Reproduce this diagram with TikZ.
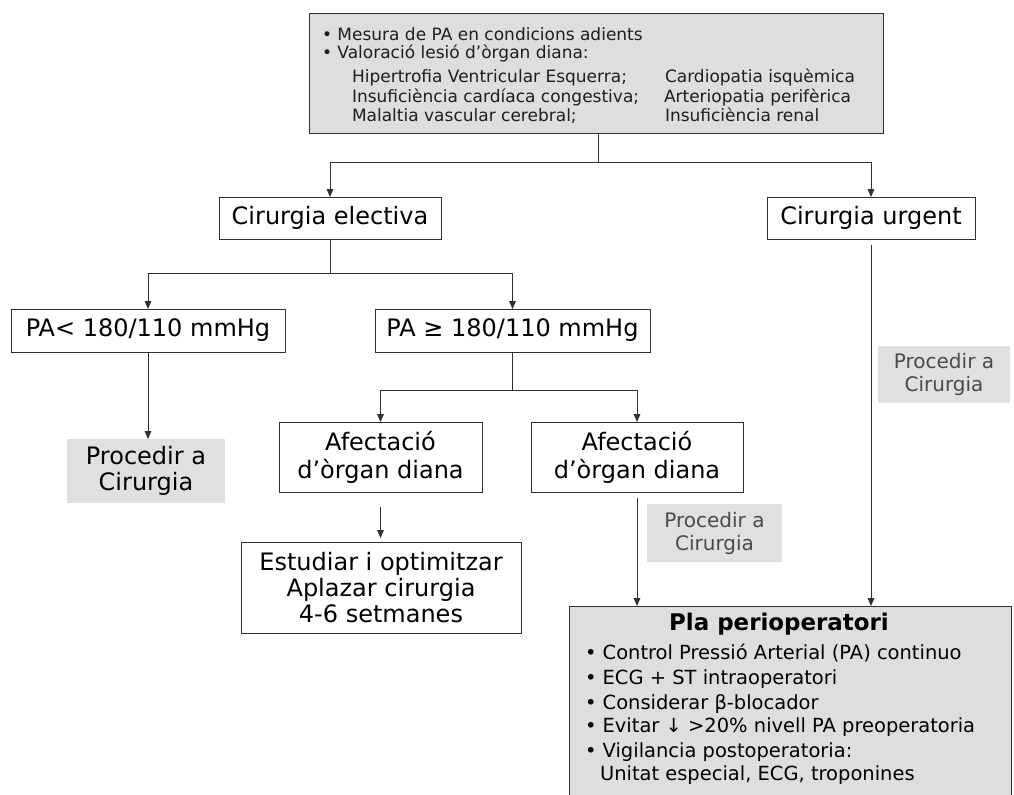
\documentclass[tikz,border=0pt]{standalone}
\usepackage{fontspec}
\setmainfont{DejaVu Sans}
\usetikzlibrary{arrows.meta}
\definecolor{boxline}{HTML}{303030}
\definecolor{boxfill}{HTML}{DEDEDE}
\definecolor{labfill}{HTML}{E0E0E0}
\definecolor{labtext}{HTML}{4A4A4A}
\definecolor{toptext}{HTML}{1E1E1E}
\tikzset{
  every node/.style={inner sep=0pt, outer sep=0pt},
  mainbox/.style={draw=boxline, line width=0.75pt, fill=white, align=center,
    font=\fontsize{18}{21}\selectfont},
  graybox/.style={draw=boxline, line width=0.75pt, fill=boxfill},
  glabelbig/.style={fill=labfill, align=center, font=\fontsize{18}{19.5}\selectfont},
  glabel/.style={fill=labfill, align=center, text=labtext, font=\fontsize{15}{17.25}\selectfont},
  toprow/.style={anchor=base west, text=toptext, font=\fontsize{12.75}{13.5}\selectfont},
  plarow/.style={anchor=base west, font=\fontsize{14.6}{18}\selectfont},
  conn/.style={draw=boxline, line width=0.75pt},
  arr/.style={conn, -{Triangle[length=6pt,width=5pt]}},
}
\begin{document}
\begin{tikzpicture}[x=0.75pt,y=-0.75pt]
\useasboundingbox (0,0) rectangle (1014,794);
% top box
\node[graybox, minimum width=430.5pt, minimum height=90pt] (top) at (596,73) {};
\node[toprow] (t1) at (322,40) {• Mesura de PA en condicions adients};
\node[toprow] (t2) at (322,58) {• Valoració lesió d’òrgan diana:};
\node[toprow] (t3) at (352,82) {Hipertrofia Ventricular Esquerra;};
\node[toprow] (t4) at (352,102) {Insuficiència cardíaca congestiva;};
\node[toprow] (t5) at (352,121) {Malaltia vascular cerebral;};
\node[toprow] (t6) at (665,82) {Cardiopatia isquèmica};
\node[toprow] (t7) at (664,102) {Arteriopatia perifèrica};
\node[toprow] (t8) at (665,121) {Insuficiència renal};
% level 1
\node[mainbox, minimum width=166.5pt, minimum height=31.5pt] (elec) at (330,218) {Cirurgia electiva};
\node[mainbox, minimum width=156pt, minimum height=31.5pt] (urg) at (871,218) {Cirurgia urgent};
% level 2
\node[mainbox, minimum width=205.5pt, minimum height=32.25pt] (pal) at (148,330.5) {PA< 180/110 mmHg};
\node[mainbox, minimum width=206.25pt, minimum height=32.25pt] (pag) at (512.5,330.5) {PA ≥ 180/110 mmHg};
% level 3
\node[glabelbig, minimum width=118.5pt, minimum height=48pt] (procL) at (146,471) {Procedir a\\ Cirurgia};
\node[mainbox, minimum width=152.25pt, minimum height=52.5pt] (afL) at (380.5,457) {Afectació\\d’òrgan diana};
\node[mainbox, minimum width=159pt, minimum height=52.5pt] (afR) at (637,457) {Afectació\\d’òrgan diana};
\node[mainbox, minimum width=210pt, minimum height=68pt, font=\fontsize{18}{19.5}\selectfont] (est) at (381,588) {Estudiar i optimitzar\\Aplazar cirurgia\\4-6 setmanes};
\node[glabel, minimum width=101.25pt, minimum height=43.5pt] (procM) at (714.5,533) {Procedir a\\ Cirurgia};
\node[glabel, minimum width=99pt, minimum height=42.75pt] (procR) at (944,374.5) {Procedir a\\ Cirurgia};
% perioperative plan
\node[graybox, minimum width=331.5pt, minimum height=145.5pt] (pla) at (790,703) {};
\node[anchor=base, font=\fontsize{17.2}{20}\selectfont\bfseries] (plat) at (779,630) {Pla perioperatori};
\node[plarow] (p1) at (585,659) {• Control Pressió Arterial (PA) continuo};
\node[plarow] (p2) at (585,684) {• ECG + ST intraoperatori};
\node[plarow] (p3) at (585,709) {• Considerar β-blocador};
\node[plarow] (p4) at (585,732) {• Evitar ↓ >20\% nivell PA preoperatoria};
\node[plarow] (p5) at (585,757) {• Vigilancia postoperatoria:};
\node[plarow] (p6) at (600,780) {Unitat especial, ECG, troponines};
% connectors
\coordinate (j1) at (598,162);
\coordinate (j2) at (elec.south |- 0,273);
\coordinate (j3) at (pag.south |- 0,390);
\draw[conn] (top.south -| j1) -- (j1);
\draw[arr] (j1) -| (elec.north);
\draw[arr] (j1) -| (urg.north);
\draw[conn] (elec.south) -- (j2);
\draw[arr] (j2) -| (pal.north);
\draw[arr] (j2) -| (pag.north);
\draw[arr] (pal.south) -- (procL.north -| pal.south);
\draw[conn] (pag.south) -- (j3);
\draw[arr] (j3) -| (afL.north);
\draw[arr] (j3) -| (afR.north);
\draw[arr, shorten <=11pt, shorten >=3.5pt] (afL.south) -- (est.north -| afL.south);
\draw[arr, shorten <=4.5pt] (afR.south) -- (pla.north -| afR.south);
\draw[arr, shorten <=4.5pt] (urg.south) -- (pla.north -| urg.south);
\end{tikzpicture}
\end{document}
